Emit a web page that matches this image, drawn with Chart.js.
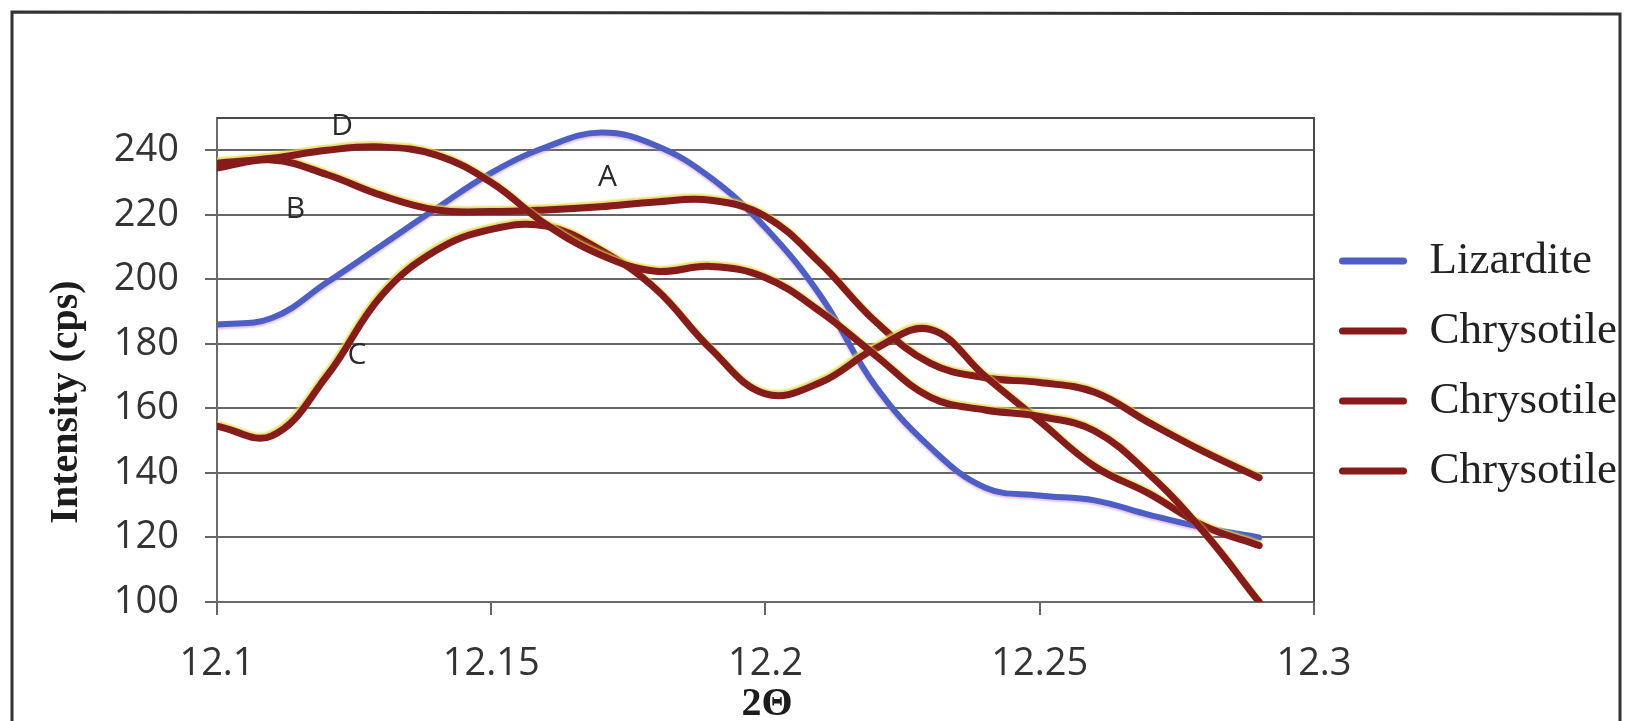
<!DOCTYPE html>
<html>
<head>
<meta charset="utf-8">
<script src="https://cdn.jsdelivr.net/npm/chart.js@4.4.1/dist/chart.umd.min.js"></script>
<style>
  html, body { margin: 0; padding: 0; background: #ffffff; }
  #wrap { position: relative; width: 1625px; height: 721px; background: #ffffff; }
  canvas { display: block; }
</style>
</head>
<body>
<div id="wrap"><canvas id="chart" width="1625" height="721"></canvas></div>
<script>
// ---------------- data ----------------
const xValues = [12.10, 12.11, 12.12, 12.13, 12.14, 12.15, 12.16, 12.17, 12.18, 12.19,
                 12.20, 12.21, 12.22, 12.23, 12.24, 12.25, 12.26, 12.27, 12.28, 12.29];

const seriesNames = ['Lizardite', 'Chrysotile', 'Chrysotile', 'Chrysotile'];

const lizardite   = [186, 188, 199, 210.5, 222, 233, 241, 245.5, 241.5, 231.5,
                     216, 195, 167, 148, 135.5, 133, 131.5, 127, 123, 120];
const chrysotileB = [234.5, 237, 232.5, 226, 221.5, 221, 221.5, 222.5, 224, 224.5,
                     219.5, 205, 187, 174, 169.5, 168, 165, 155.5, 146.5, 138.5];
const chrysotileC = [154.5, 151.5, 170, 195, 209, 215.5, 216.5, 209, 197, 178.5,
                     164.5, 168, 178.5, 184.5, 170, 156, 142, 133.5, 123.5, 117.5];
const chrysotileD = [236, 237.5, 240, 241, 238.5, 230, 217, 207.5, 202.5, 204,
                     200.5, 190, 176.5, 163.5, 159.5, 157.5, 153, 139.5, 121.5, 100];

const yTicks = [100, 120, 140, 160, 180, 200, 220, 240];
const xTicks = [12.1, 12.15, 12.2, 12.25, 12.3];

const curveLabels  = ['A', 'B', 'C', 'D'];
const curveLabelX  = [12.1712, 12.1143, 12.1255, 12.1228];
const curveLabelY  = [231.5, 221.8, 176.5, 247.5];

const xTitle = '2\u0398';
const yTitle = 'Intensity (cps)';

// ---------------- styles ----------------
const BLUE = '#4d5fc4';
const BROWN = '#861b1b';
const GRID = '#666666';

function pts(arr) { return xValues.map((x, i) => ({ x: x, y: arr[i] })); }

const seriesData = [lizardite, chrysotileB, chrysotileC, chrysotileD];
const seriesColors = [BLUE, BROWN, BROWN, BROWN];

const datasets = seriesData.map((arr, i) => ({
  label: seriesNames[i],
  data: pts(arr),
  borderColor: seriesColors[i],
  backgroundColor: seriesColors[i],
  borderWidth: i === 0 ? 6 : 7,
  pointRadius: 0,
  pointHoverRadius: 0,
  tension: 0.4,
  fill: false,
  borderCapStyle: 'round',
  borderJoinStyle: 'round',
  order: 4 - i
}));

const LEGEND_W = 311;
const LEGEND_SHIFT = 6;

const framePlugin = {
  id: 'framePlugin',
  beforeLayout(chart) {
    const lg = chart.legend;
    if (lg && !lg.__patched) {
      const orig = lg.fit.bind(lg);
      lg.fit = function () { orig(); this.width = LEGEND_W; };
      lg.__patched = true;
    }
  },
  afterLayout(chart) {
    const lg = chart.legend;
    if (lg) { lg.top += LEGEND_SHIFT; lg.bottom += LEGEND_SHIFT; }
  },
  beforeDatasetDraw(chart, args) {
    const ctx = chart.ctx;
    ctx.save();
    if (args.index !== 0) {
      ctx.shadowColor = 'rgba(226,214,70,0.85)';
      ctx.shadowOffsetX = -1;
      ctx.shadowOffsetY = -2;
      ctx.shadowBlur = 2;
    } else {
      ctx.shadowColor = 'rgba(200,120,190,0.45)';
      ctx.shadowOffsetX = 0;
      ctx.shadowOffsetY = 2;
      ctx.shadowBlur = 2;
    }
  },
  afterDatasetDraw(chart) {
    chart.ctx.restore();
  },
  afterDraw(chart) {
    const ctx = chart.ctx;
    const a = chart.chartArea;
    ctx.save();
    // plot-area top and right borders
    ctx.strokeStyle = '#4a4a4a';
    ctx.lineWidth = 2;
    ctx.beginPath();
    ctx.moveTo(a.left, a.top);
    ctx.lineTo(a.right, a.top);
    ctx.lineTo(a.right, a.bottom);
    ctx.stroke();
    // outer chart frame
    ctx.strokeStyle = '#333333';
    ctx.lineWidth = 3;
    ctx.beginPath();
    ctx.moveTo(12, 721);
    ctx.lineTo(12, 12);
    ctx.lineTo(1620, 14);
    ctx.lineTo(1620, 721);
    ctx.stroke();

    // curve letters
    const xs = chart.scales.x, ys = chart.scales.y;
    ctx.fillStyle = '#2a2a2a';
    ctx.font = '30px "Open Sans"';
    ctx.textAlign = 'center';
    ctx.textBaseline = 'middle';
    curveLabels.forEach((t, i) => {
      ctx.fillText(t, xs.getPixelForValue(curveLabelX[i]), ys.getPixelForValue(curveLabelY[i]));
    });

    // axis titles
    ctx.fillStyle = '#1c1c1c';
    ctx.font = 'bold 40px "Liberation Serif"';
    ctx.fillText(xTitle, 767, 705);
    ctx.translate(67, 402);
    ctx.rotate(-Math.PI / 2);
    ctx.fillText(yTitle, 0, 0);
    ctx.restore();
  }
};

new Chart(document.getElementById('chart'), {
  type: 'line',
  data: { datasets: datasets },
  options: {
    responsive: false,
    animation: false,
    devicePixelRatio: 1,
    layout: { padding: { left: 0, right: 0, top: 118, bottom: 0 } },
    plugins: {
      tooltip: { enabled: false },
      legend: {
        display: true,
        position: 'right',
        fullSize: false,
        labels: {
          boxWidth: 68,
          boxHeight: 7,
          padding: 25,
          color: '#222222',
          font: { family: '"Liberation Serif"', size: 45 },
          generateLabels(chart) {
            const items = Chart.defaults.plugins.legend.labels.generateLabels(chart);
            items.forEach(it => { it.lineWidth = 0; it.borderRadius = 3.5; });
            return items;
          },
          sort: (a, b) => a.datasetIndex - b.datasetIndex
        }
      }
    },
    scales: {
      x: {
        type: 'linear',
        min: 12.1,
        max: 12.3,
        afterBuildTicks(scale) { scale.ticks = xTicks.map(v => ({ value: v })); },
        afterFit(scale) { scale.height = 119; },
        grid: { drawOnChartArea: false, drawTicks: true, tickLength: 13, color: GRID, lineWidth: 2 },
        border: { display: true, color: '#6a6a6a', width: 2 },
        ticks: {
          autoSkip: false,
          maxRotation: 0,
          padding: 26,
          color: '#333333',
          font: { family: '"Open Sans"', size: 38 },
          callback: (v) => String(+Number(v).toFixed(2))
        }
      },
      y: {
        type: 'linear',
        min: 100,
        max: 250,
        afterBuildTicks(scale) { scale.ticks = yTicks.map(v => ({ value: v })); },
        afterFit(scale) { scale.width = 217; },
        grid: { drawOnChartArea: true, drawTicks: true, tickLength: 12, color: GRID, lineWidth: 2 },
        border: { display: true, color: '#6a6a6a', width: 2 },
        ticks: {
          autoSkip: false,
          padding: 26,
          color: '#333333',
          font: { family: '"Open Sans"', size: 38 },
          callback: (v) => String(v)
        }
      }
    }
  },
  plugins: [framePlugin]
});
</script>
</body>
</html>
